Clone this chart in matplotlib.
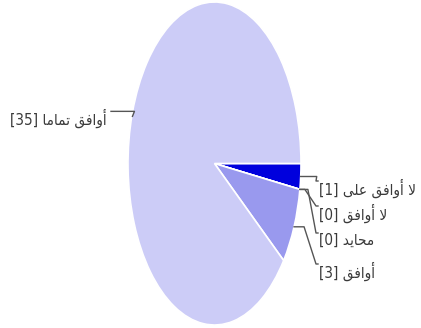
import numpy as np
import matplotlib.pyplot as plt

# answers and counts (Arabic written in visual order with presentation forms,
# since matplotlib does no bidi / shaping on its own)
labels = [
    "\uFEF0\uFEE0\uFECB \uFED6\uFED3\uFE8D\uFEED\uFE83 \uFEFB",   # لا أوافق على
    "\uFED6\uFED3\uFE8D\uFEED\uFE83 \uFEFB",                       # لا أوافق
    "\uFEAA\uFEF3\uFE8E\uFEA4\uFEE3",                              # محايد
    "\uFED6\uFED3\uFE8D\uFEED\uFE83",                              # أوافق
    "\uFE8E\uFEE3\uFE8E\uFEE4\uFE97 \uFED6\uFED3\uFE8D\uFEED\uFE83",  # أوافق تماما
]
counts = [1, 0, 0, 3, 35]
colors = ['#0000dd', '#6666e6', '#8080ea', '#9999ee', '#ccccf7']

W, H = 421, 328
fig = plt.figure(figsize=(W / 100, H / 100), dpi=100)
# pie is drawn as a squashed ellipse, like the original
left, right, top, bottom = 128, 301, 2, 325
ax = fig.add_axes([left / W, 1 - bottom / H, (right - left) / W, (bottom - top) / H])
cx, cy = (left + right) / 2, (top + bottom) / 2
rx, ry = (right - left) / 2, (bottom - top) / 2


def px2d(px, py):
    return (px - cx) / rx, (cy - py) / ry


wedges, _ = ax.pie(counts, colors=colors, startangle=0, counterclock=False,
                   radius=1, wedgeprops=dict(edgecolor='white', linewidth=1.2))
ax.set_aspect('auto')
ax.set_xlim(-1, 1)
ax.set_ylim(-1, 1)
ax.axis('off')

# label positions in pixels (left edge for right side, right edge for left side)
label_pos = [(319, 188), (319, 213), (319, 240), (319, 271), (107, 118)]
elbow = [16, 5, 8, 10, -6]

for w, lab, n, (lx, ly), e in zip(wedges, labels, counts, label_pos, elbow):
    mid = np.deg2rad((w.theta1 + w.theta2) / 2)
    ax0, ay0 = np.cos(mid), np.sin(mid)
    apx, apy = cx + ax0 * rx, cy - ay0 * ry
    if lx > cx:
        pts = [(apx, apy), (apx + e, apy), (lx - 3, ly - 7), (lx - 1, ly - 7)]
        ha = 'left'
    else:
        pts = [(apx, apy + 4), (apx + 2, apy - 1), (lx + 20, apy - 1), (lx + 4, apy - 1)]
        ha = 'right'
    xs, ys = zip(*[px2d(*p) for p in pts])
    ax.plot(xs, ys, color='#555555', lw=1, clip_on=False)
    text = f"[{n}] " + lab
    tx, ty = px2d(lx, ly)
    ax.text(tx, ty, text, ha=ha, va='center', fontsize=11, color='#3a3a3a',
            family=['DejaVu Sans'], fontstretch='condensed', clip_on=False)

fig.savefig('out.png', dpi=100)
